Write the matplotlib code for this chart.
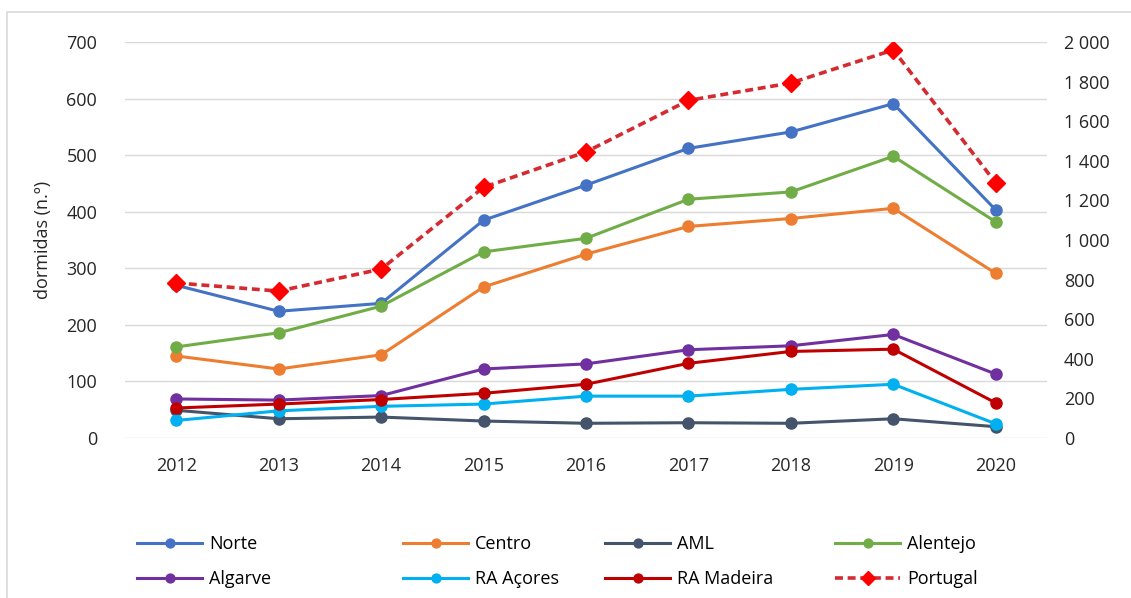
import matplotlib.pyplot as plt
from matplotlib.patches import Rectangle
from matplotlib.ticker import FuncFormatter

plt.rcParams['font.family'] = ['Open Sans', 'DejaVu Sans']

# DATA
years = ['2012', '2013', '2014', '2015', '2016', '2017', '2018', '2019', '2020']
norte = [270, 224, 238, 385, 447, 512, 541, 591, 403]
centro = [145, 122, 147, 267, 325, 374, 388, 406, 291]
aml = [49, 34, 37, 30, 26, 27, 26, 34, 20]
alentejo = [161, 186, 233, 329, 353, 422, 435, 498, 382]
algarve = [69, 67, 75, 122, 131, 156, 163, 183, 113]
acores = [31, 48, 56, 60, 74, 74, 86, 95, 25]
madeira = [53, 60, 68, 79, 95, 132, 153, 157, 62]
portugal = [783, 742, 853, 1266, 1445, 1705, 1793, 1960, 1288]

regions = [('Norte', norte, '#4472C4'),
           ('Centro', centro, '#ED7D31'),
           ('AML', aml, '#44546A'),
           ('Alentejo', alentejo, '#70AD47'),
           ('Algarve', algarve, '#7030A0'),
           ('RA Açores', acores, '#00B0F0'),
           ('RA Madeira', madeira, '#C00000')]

# PLOT
fig = plt.figure(figsize=(11.31, 5.98), dpi=100)
fig.patches.append(Rectangle((7/1131, -0.1), 1.2, (598-12)/598 + 0.1, transform=fig.transFigure,
                             fill=False, edgecolor='#D9D9D9', linewidth=1.2))
ax = fig.add_axes([125/1131, 160/598, (1047-125)/1131, (438-42)/598])
ax2 = ax.twinx()

x = list(range(len(years)))
handles = {}
for name, vals, col in regions:
    h, = ax.plot(x, vals, color=col, linewidth=2.2, marker='o', markersize=8, label=name, zorder=3)
    handles[name] = h
h, = ax2.plot(x, portugal, color='#D42A30', linewidth=2.6, linestyle=(0, (2.2, 1.3)),
              marker='D', markersize=9, markerfacecolor='#FF0000', markeredgecolor='#FF0000', label='Portugal')
handles['Portugal'] = h

ax.set_xlim(-0.5, 8.5)
ax.set_ylim(0, 700)
ax.set_yticks(range(0, 701, 100))
ax2.set_ylim(0, 2000)
ax2.set_yticks(range(0, 2001, 200))
ax2.yaxis.set_major_formatter(FuncFormatter(lambda v, p: f'{int(v):,}'.replace(',', ' ')))
ax.set_xticks(x)
ax.set_xticklabels(years)

ax.grid(axis='y', color='#D9D9D9', linewidth=1)
ax.set_axisbelow(True)
for a in (ax, ax2):
    for s in a.spines.values():
        s.set_visible(False)
    a.tick_params(length=0, labelsize=13, colors='#262626')
ax.tick_params(axis='x', pad=14)
ax.tick_params(axis='y', pad=20)
ax2.tick_params(axis='y', pad=12)
ax.set_ylabel('dormidas (n.º)', fontsize=13, color='#262626', labelpad=10)

# legend: one per column so the columns sit where the reference has them
cols = [(['Norte', 'Algarve'], 137), (['Centro', 'RA Açores'], 403),
        (['AML', 'RA Madeira'], 605), (['Alentejo', 'Portugal'], 835)]
for names, xpos in cols:
    fig.legend([handles[n] for n in names], names, loc='lower left',
               bbox_to_anchor=(xpos/1131, 10/598), frameon=False, fontsize=13,
               borderpad=0, borderaxespad=0, handlelength=3.6, handletextpad=0.4,
               labelspacing=0.95, markerscale=0.8)

plt.savefig('out.png', dpi=100)
